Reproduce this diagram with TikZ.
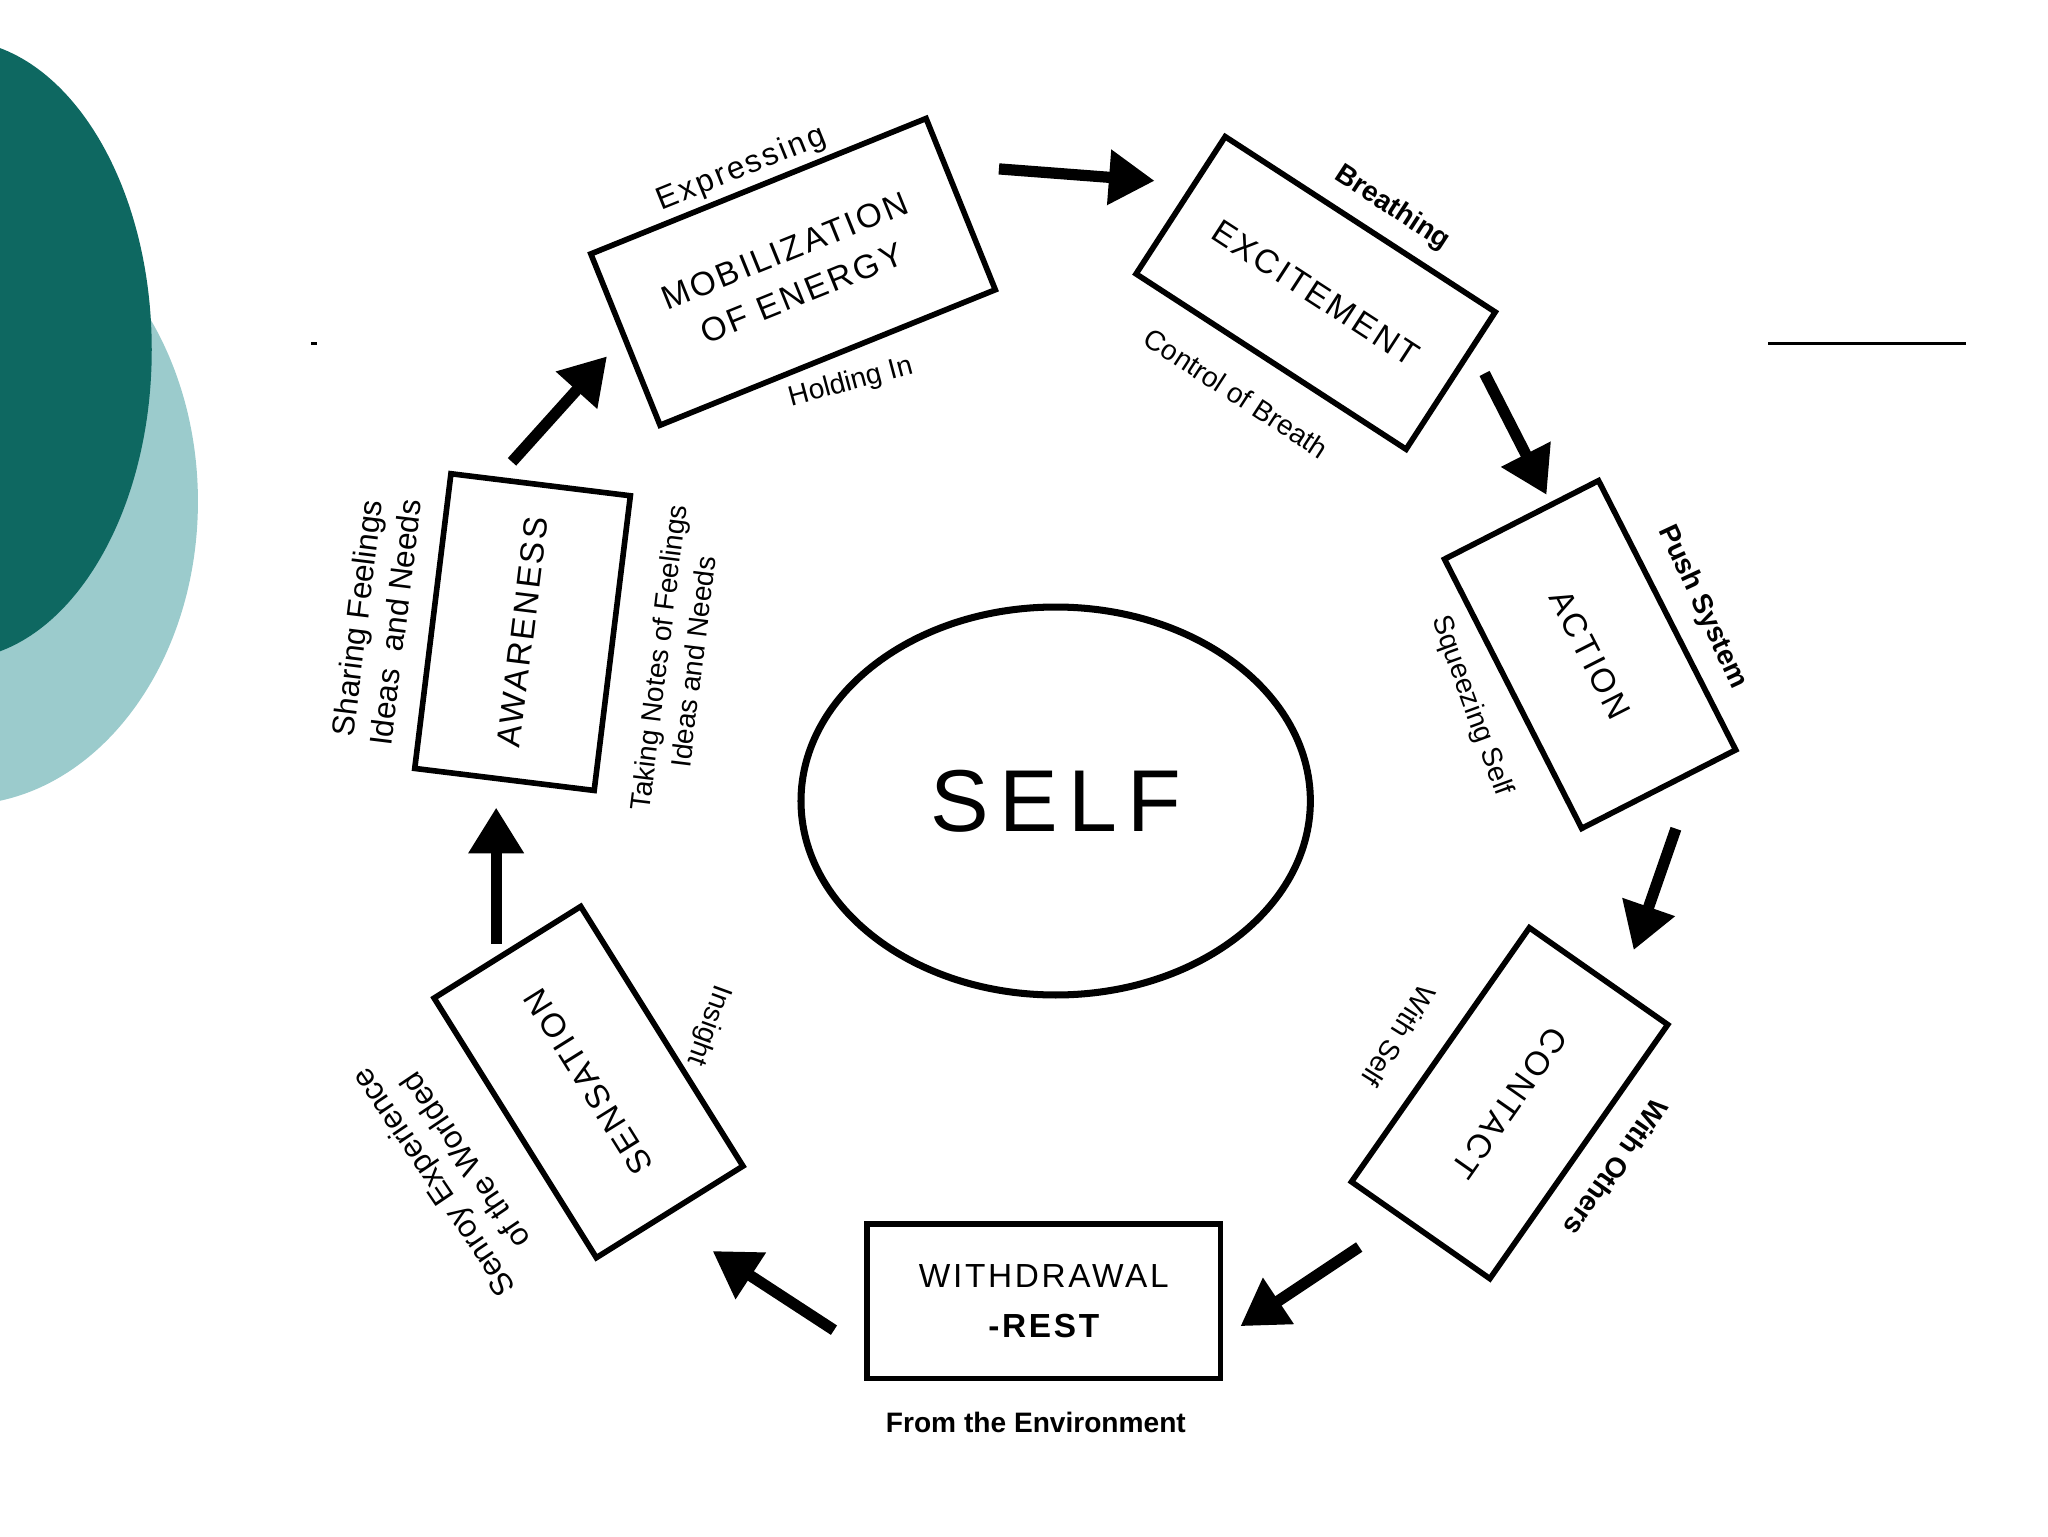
\documentclass[tikz,border=0pt]{standalone}
\usepackage{fontspec}
\setmainfont{Liberation Sans}
\usetikzlibrary{arrows.meta,shapes.geometric}
\begin{document}
\begin{tikzpicture}[x=0.0132cm,y=0.0132cm,
 box/.style={draw,line width=1.6pt,align=center,inner sep=0pt,font=\fontsize{9.5}{13}\selectfont\addfontfeatures{LetterSpace=8}},
 arr/.style={line width=3.2pt,-{Triangle[length=13pt,width=15pt]}},
 lab/.style={font=\fontsize{8}{10}\selectfont,align=center,inner sep=0pt},
 blab/.style={lab,font=\fontsize{8}{10}\selectfont\bfseries}]
\useasboundingbox (0,0) rectangle (1552,-1164);
\clip (0,0) rectangle (1552,-1164);
\fill[fill={rgb,255:red,155;green,203;blue,204}] (-30,-380) ellipse[x radius=180,y radius=230];
\fill[fill={rgb,255:red,14;green,104;blue,97}] (-35,-265) ellipse[x radius=150,y radius=235];
\draw[line width=0.8pt] (236,-260) -- (240,-260);
\draw[line width=0.8pt] (1340,-260) -- (1490,-260);
\node[box,minimum width=274*0.0132cm,minimum height=140*0.0132cm,rotate=22] (mob) at (601,-206) {MOBILIZATION\\OF ENERGY};
\node[box,minimum width=244*0.0132cm,minimum height=124*0.0132cm,rotate=-33] (exc) at (997,-222) {EXCITEMENT};
\node[box,minimum width=229*0.0132cm,minimum height=131*0.0132cm,rotate=-63] (act) at (1205,-496) {ACTION};
\node[box,minimum width=235*0.0132cm,minimum height=128*0.0132cm,rotate=-125] (con) at (1144,-836) {CONTACT};
\node[box,minimum width=268*0.0132cm,minimum height=117*0.0132cm] (wit) at (791,-986) {WITHDRAWAL\\[1pt]{\bfseries -REST}};
\node[box,minimum width=232*0.0132cm,minimum height=131*0.0132cm,rotate=122] (sen) at (446,-820) {SENSATION};
\node[box,minimum width=225*0.0132cm,minimum height=137*0.0132cm,rotate=83] (awa) at (396,-479) {AWARENESS};
\node[draw,line width=2pt,ellipse,minimum width=386*0.0132cm,minimum height=294*0.0132cm,font=\fontsize{25}{28}\selectfont\addfontfeatures{LetterSpace=12}] (self) at (800,-607) {SELF};
\coordinate (a1) at (757,-128); \coordinate (b1) at (875,-137);
\coordinate (a2) at (1125,-283); \coordinate (b2) at (1172,-375);
\coordinate (a3) at (1270,-628); \coordinate (b3) at (1238,-720);
\coordinate (a4) at (1030,-945); \coordinate (b4) at (940,-1005);
\coordinate (a5) at (632,-1008); \coordinate (b5) at (540,-948);
\coordinate (a6) at (376,-715); \coordinate (b6) at (376,-612);
\coordinate (a7) at (388,-350); \coordinate (b7) at (460,-270);
\foreach \i in {1,...,7} \draw[arr] (a\i) -- (b\i);
\node[lab,rotate=22,font=\fontsize{9}{12}\selectfont\addfontfeatures{LetterSpace=8}] (l1) at (562,-128) {Expressing};
\node[lab,rotate=15] (l2) at (645,-290) {Holding In};
\node[blab,rotate=-33] (l3) at (1055,-158) {Breathing};
\node[lab,rotate=-33] (l4) at (937,-298) {Control of Breath};
\node[blab,rotate=-65] (l5) at (1290,-460) {Push System};
\node[lab,rotate=-70] (l6) at (1115,-535) {Squeezing Self};
\node[lab,rotate=83,font=\fontsize{9}{11}\selectfont] (l7) at (285,-470) {Sharing Feelings\\Ideas\ \ and Needs};
\node[lab,rotate=83] (l8) at (512,-500) {Taking Notes of Feelings\\Ideas and Needs};
\node[lab,rotate=-110] (l9) at (537,-777) {Insight};
\node[lab,rotate=124,font=\fontsize{9}{11}\selectfont] (l10) at (340,-888) {Senroy Experience\\of the Worlded};
\node[lab,rotate=-122] (l11) at (1060,-785) {With Self};
\node[blab,rotate=-125] (l12) at (1225,-885) {With Others};
\node[blab] (l13) at (785,-1078) {From the Environment};
\end{tikzpicture}
\end{document}
